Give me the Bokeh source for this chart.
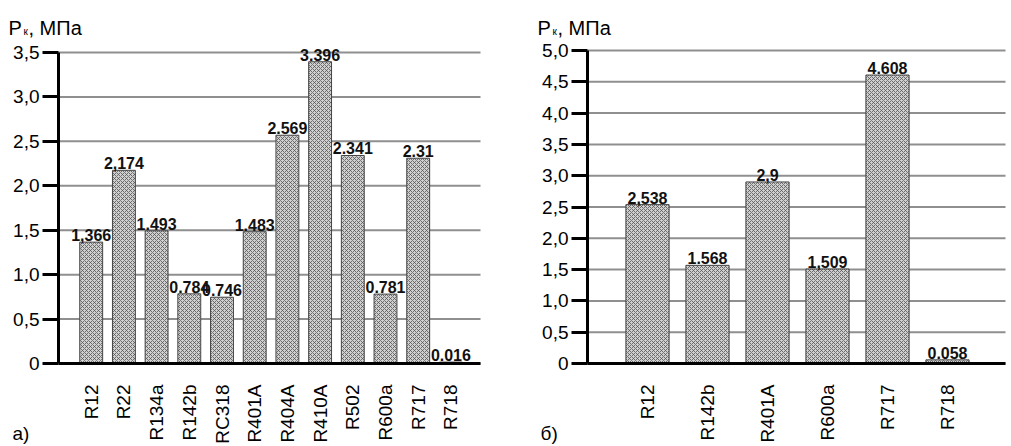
from bokeh.plotting import figure
from bokeh.models import ColumnDataSource, Range1d, FixedTicker, Label
from bokeh.layouts import row
from bokeh.core.properties import value
from bokeh.embed import file_html
from bokeh.resources import INLINE

FONT = "Liberation Sans"

# ---- data ----
cats_a = ["R12", "R22", "R134a", "R142b", "RC318", "R401A", "R404A", "R410A",
          "R502", "R600a", "R717", "R718"]
vals_a = [1.366, 2.174, 1.493, 0.784, 0.746, 1.483, 2.569, 3.396, 2.341, 0.781, 2.31, 0.016]
text_a = ["1,366", "2,174", "1.493", "0.784", "0.746", "1.483", "2.569", "3.396",
          "2.341", "0.781", "2.31", "0.016"]
yticks_a = [0, 0.5, 1.0, 1.5, 2.0, 2.5, 3.0, 3.5]
ylabels_a = ["0", "0,5", "1,0", "1,5", "2,0", "2,5", "3,0", "3,5"]

cats_b = ["R12", "R142b", "R401A", "R600a", "R717", "R718"]
vals_b = [2.538, 1.568, 2.9, 1.509, 4.608, 0.058]
text_b = ["2,538", "1.568", "2,9", "1,509", "4.608", "0.058"]
yticks_b = [0, 0.5, 1.0, 1.5, 2.0, 2.5, 3.0, 3.5, 4.0, 4.5, 5.0]
ylabels_b = ["0", "0,5", "1,0", "1,5", "2,0", "2,5", "3,0", "3,5", "4,0", "4,5", "5,0"]

H = 445


def panel(cats, vals, texts, yticks, ylabels, width, ax_px, unit_px, right_px,
          top_px, zero_px, bar_w, tag, cap_px):
    """ax_px: pixel column of the y axis, unit_px: pixels per category,
    right_px: end of the grid lines, top_px / zero_px: pixel rows of top tick and zero."""
    ax_x = -1.0  # y axis sits one category left of the first bar
    x0 = ax_x - ax_px / unit_px
    x1 = x0 + width / unit_px
    xr_end = ax_x + (right_px - ax_px) / unit_px
    ymax = yticks[-1]
    ppu = (zero_px - top_px) / ymax
    y1 = ymax + top_px / ppu
    y0 = -(H - zero_px) / ppu

    def px2x(px):
        return x0 + px / unit_px

    def px2y(py):
        return y1 - py / ppu

    p = figure(width=width, height=H, output_backend="svg", toolbar_location=None,
               title=None, x_range=Range1d(x0, x1), y_range=Range1d(y0, y1),
               min_border=0, min_border_left=0, min_border_right=0,
               min_border_top=0, min_border_bottom=0)
    p.outline_line_color = None
    p.background_fill_color = "white"
    p.border_fill_color = "white"
    p.xgrid.visible = False
    p.ygrid.visible = False

    # horizontal grid lines from the y axis to the right end
    p.segment(x0=[ax_x] * len(yticks), y0=yticks, x1=[xr_end] * len(yticks),
              y1=yticks, line_color="#8f8f8f", line_width=2)

    xs = list(range(len(cats)))
    src = ColumnDataSource(dict(x=xs, top=vals, label=texts))
    p.vbar(x="x", top="top", width=bar_w, source=src,
           fill_color="#d0d0d0", line_color="#444444", line_width=1,
           hatch_pattern="diagonal_cross", hatch_scale=4, hatch_color="#555555",
           hatch_weight=0.8)
    p.text(x="x", y="top", text="label", source=src, text_align="center",
           text_baseline="bottom", y_offset=-1, text_font=value(FONT),
           text_font_style="bold", text_font_size="16px", text_color="#111111")

    ya = p.yaxis[0]
    ya.fixed_location = ax_x
    ya.bounds = (0, ymax)
    ya.ticker = FixedTicker(ticks=yticks)
    ya.major_label_overrides = {t: l for t, l in zip(yticks, ylabels)}
    ya.axis_line_width = 3
    ya.axis_line_color = "black"
    ya.major_tick_line_width = 3
    ya.major_tick_line_color = "black"
    ya.major_tick_out = 16
    ya.major_tick_in = 0
    ya.minor_tick_line_color = None
    ya.major_label_standoff = 3
    ya.major_label_text_font = FONT
    ya.major_label_text_font_size = "19px"
    ya.major_label_text_color = "black"

    xa = p.xaxis[0]
    xa.fixed_location = 0
    xa.bounds = (ax_x, xr_end)
    xa.ticker = FixedTicker(ticks=xs)
    xa.major_label_overrides = {i: c for i, c in zip(xs, cats)}
    xa.major_label_orientation = 3.14159265 / 2
    xa.axis_line_width = 3
    xa.axis_line_color = "black"
    xa.major_tick_line_color = None
    xa.minor_tick_line_color = None
    xa.major_label_standoff = 15
    xa.major_label_text_font = FONT
    xa.major_label_text_font_size = "19px"
    xa.major_label_text_color = "black"

    # caption  P_к, МПа  and panel tag (pixel positions inside the canvas)
    (xP, yP), (xk, yk), xM, (xt, yt) = cap_px
    kw = dict(text_font=FONT, text_color="black", text_baseline="alphabetic")
    p.add_layout(Label(x=px2x(xP), y=px2y(yP), text="P", text_font_size="20px", **kw))
    p.add_layout(Label(x=px2x(xk), y=px2y(yk), text="к", text_font_size="10px", **kw))
    p.add_layout(Label(x=px2x(xM), y=px2y(yP), text=", МПа", text_font_size="20px", **kw))
    p.add_layout(Label(x=px2x(xt), y=px2y(yt), text=tag, text_font_size="19px", **kw))
    return p


pa = panel(cats_a, vals_a, text_a, yticks_a, ylabels_a, 495, 58, 32.7, 480, 52, 363,
           0.70, "а)", ((8, 27), (23, 31), 28, (12, 433)))
pb = panel(cats_b, vals_b, text_b, yticks_b, ylabels_b, 513, 92, 60.0, 510, 50, 363,
           0.72, "б)", ((42, 27), (57, 31), 62, (45, 433)))

layout = row(pa, pb)
open("out.html", "w").write(file_html(layout, INLINE))
